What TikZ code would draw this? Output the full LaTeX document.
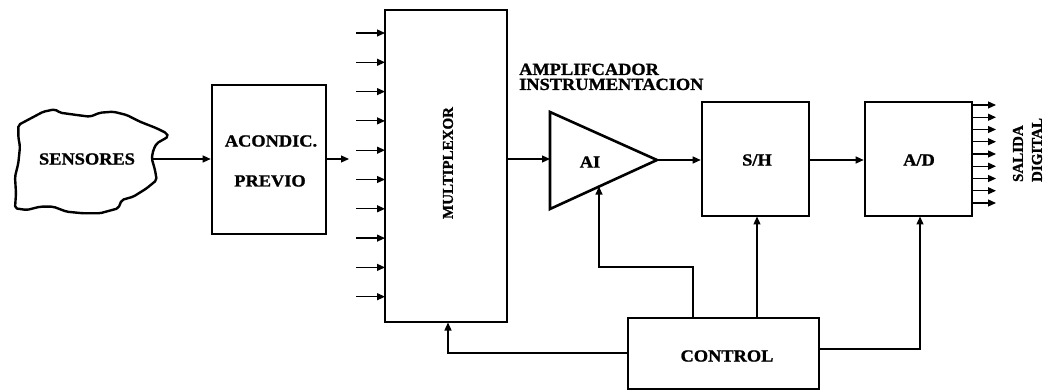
\documentclass[tikz,border=0pt]{standalone}
\usepackage{fontspec}
\newfontfamily\labf{Liberation Serif}[FakeStretch=1.08,FakeBold=1.2]
\newfontfamily\labn{Liberation Serif}[FakeBold=1.2]
\usetikzlibrary{arrows.meta}
\begin{document}
\begin{tikzpicture}[x=1pt,y=-1pt,
  box/.style={draw,line width=2.6pt,inner sep=0pt},
  lab/.style={font=\labf\bfseries\fontsize{17}{15}\selectfont},
  con/.style={line width=1.2pt},
  arr/.style={con,-{Triangle[length=8pt,width=7pt]}},
]
\useasboundingbox (0,0) rectangle (1047,390);
% sensors cloud
\draw[line width=2.4pt,line join=round,rounded corners=2pt]
 (18.3,125)--(43.3,111.7)--(55,109.3)--(60,112.7)--(76.7,115)--(90,116.7)--(100,112.7)--(113.3,111.7)--(126.7,115)--(140,121.7)--(156.7,128.3)--(166.7,133.3)--(168.3,136.7)--(156.7,143.3)--(153.3,150)--(151.7,158.3)--(155,170)--(156.7,180)--(146.7,188.3)--(133.3,196.7)--(121.7,200)--(118.3,208.3)--(100,213.3)--(83.3,213.3)--(66.7,211.7)--(53.3,206.7)--(40,206.7)--(26.7,210)--(15,208.3)--(16,193.3)--(15,176.7)--(18.3,163.3)--(20,146.7)--(18.3,136.7)--cycle;
\node[lab] (sens) at (87,159) {SENSORES};
\coordinate (sensR) at (152,159);
% acondic
\node[box,minimum width=114pt,minimum height=149pt] (acond) at (269,159.5) {};
\node[lab] (acond1) at (271,141) {ACONDIC.};
\node[lab] (acond2) at (270,181) {PREVIO};
\coordinate (acondOut) at (349,159);
% multiplexor
\node[box,minimum width=122pt,minimum height=312pt] (mux) at (446,166) {};
\node[font=\labn\bfseries\fontsize{15}{15}\selectfont,rotate=90] (muxt) at (448,163) {MULTIPLEXOR};
\foreach \i in {0,...,9}{
  \coordinate (min\i) at (356,{33+\i*29.3});
  \draw[arr] (min\i) -- (385,{33+\i*29.3});
}
% AI triangle
\coordinate (aiA) at (550,112);
\coordinate (aiB) at (550,209);
\coordinate (aiC) at (657,160);
\draw[line width=2.6pt,line join=miter] (aiA) -- (aiC) -- (aiB) -- cycle;
\node[lab] (ait) at (590,162) {AI};
\coordinate (aiIn) at (550,159);
\coordinate (aiBot) at (599,186.6);
\node[lab,align=left,anchor=north west,inner sep=0pt] (amp) at (519,63.5) {AMPLIFCADOR\\INSTRUMENTACION};
% S/H and A/D
\node[box,minimum width=107pt,minimum height=114pt] (sh) at (755.5,159) {};
\node[lab] (sht) at (757,160) {S/H};
\node[box,minimum width=107pt,minimum height=114pt] (ad) at (918.5,159) {};
\node[lab] (adt) at (919,160) {A/D};
\foreach \i in {0,...,8}{
  \coordinate (aout\i) at (973,{105+\i*12.25});
  \draw[arr] (aout\i) -- (996,{105+\i*12.25});
}
\node[font=\labn\bfseries\fontsize{15}{19}\selectfont,rotate=90,align=left] (sal) at (1027.5,150) {SALIDA\\DIGITAL};
% control
\node[box,minimum width=191pt,minimum height=71pt] (ctrl) at (723.5,353.5) {};
\node[lab] (ctrlt) at (727,356) {CONTROL};
% connectors
\draw[arr] (sensR) -- (acond.west |- sensR);
\draw[arr] (acond.east |- acondOut) -- (acondOut);
\draw[arr] (mux.east |- aiIn) -- (aiIn);
\draw[arr] (aiC) -- (sh.west |- aiC);
\draw[arr] (sh.east |- aiC) -- (ad.west |- aiC);
\draw[arr] (693,318) -- (693,267) -- (599,267) -- (aiBot);
\draw[arr] (ctrl.west |- 0,353) -- (448,353) -- (448,322.5);
\draw[arr] (757,318) -- (757,216.5);
\draw[arr] (ctrl.east |- 0,349) -- (920,349) -- (920,216.5);
\end{tikzpicture}
\end{document}
